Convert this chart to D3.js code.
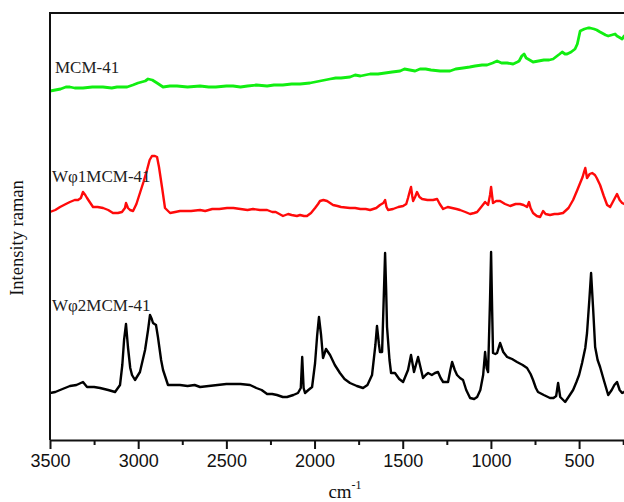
<!DOCTYPE html>
<html>
<head>
<meta charset="utf-8">
<script src="https://cdn.jsdelivr.net/npm/d3@7"></script>
<style>
  body { margin: 0; background: #fff; }
  svg { display: block; }
  .tick text { font-family: "Liberation Sans", Arial, sans-serif; font-size: 18px; fill: #111; }
</style>
</head>
<body>
<div id="chart"></div>
<script>
// spectra: [wavenumber cm-1, intensity (arbitrary units)]
var mcm41 = [[3500,349],[3470,350],[3440,351],[3410,353],[3387,353],[3360,352],[3340,352],[3313,352],[3260,353],
  [3200,353],[3150,352],[3120,353],[3063,353],[3030,355],[3001,357],[2960,359],[2944,361],[2920,360],[2893,357],
  [2859,353],[2820,354],[2780,354],[2720,353],[2649,354],[2600,353],[2560,353],[2500,354],[2462,354],[2420,353],
  [2380,354],[2330,355],[2269,354],[2230,355],[2180,355],[2130,356],[2082,356],[2026,357],[1969,359],[1912,361],
  [1880,362],[1850,362],[1799,363],[1770,365],[1740,364],[1685,366],[1640,366],[1600,367],[1560,368],[1515,369],
  [1490,371],[1460,370],[1430,369],[1402,371],[1370,371],[1340,370],[1288,369],[1232,369],[1200,371],[1158,372],
  [1120,373],[1090,374],[1050,375],[1022,375],[990,377],[965,379],[940,377],[908,377],[874,376],[850,378],
  [840,379],[825,384],[812,386],[800,382],[790,381],[761,378],[730,379],[700,380],[670,380],[647,381],[625,384],
  [610,386],[596,388],[580,386],[568,386],[545,388],[523,391],[510,396],[505,400],[494,409],[470,411],[450,412],
  [438,412],[415,411],[400,410],[381,408],[360,406],[350,405],[335,404],[315,405],[296,406],[285,404],[275,403],
  [256,401],[245,404],[230,402]];

var wphi1 = [[3500,228],[3470,230],[3443,233],[3410,236],[3387,238],[3360,240],[3341,240],[3325,242],[3313,248],
  [3300,245],[3290,242],[3275,238],[3256,233],[3230,233],[3199,232],[3170,230],[3143,227],[3115,227],[3092,228],
  [3075,232],[3069,237],[3058,232],[3046,230],[3029,229],[3010,236],[2990,247],[2970,258],[2950,270],[2935,280],
  [2922,284],[2905,284],[2893,283],[2882,273],[2865,253],[2848,232],[2819,227],[2790,228],[2763,229],[2730,229],
  [2700,229],[2649,230],[2620,229],[2580,231],[2540,231],[2496,232],[2460,232],[2420,231],[2380,230],[2349,231],
  [2310,230],[2269,230],[2240,228],[2220,228],[2179,224],[2150,226],[2130,225],[2100,224],[2082,225],[2060,224],
  [2043,224],[2020,227],[1997,232],[1980,236],[1969,239],[1950,240],[1929,239],[1895,235],[1870,234],[1850,233],
  [1799,232],[1770,232],[1740,231],[1710,231],[1685,230],[1650,232],[1629,235],[1610,237],[1600,240],[1592,233],
  [1583,230],[1555,231],[1525,233],[1498,234],[1480,236],[1470,242],[1458,250],[1453,253],[1446,244],[1441,239],
  [1430,243],[1419,248],[1405,243],[1390,241],[1360,240],[1328,240],[1305,241],[1290,236],[1271,231],[1245,233],
  [1220,232],[1195,231],[1175,230],[1145,228],[1118,226],[1095,227],[1078,228],[1055,233],[1033,238],[1016,235],
  [1005,245],[999,253],[993,244],[988,237],[970,239],[948,239],[920,236],[891,234],[860,236],[835,236],[815,235],
  [795,233],[784,238],[775,232],[761,227],[740,224],[721,223],[704,229],[690,226],[665,225],[640,226],[620,226],
  [591,227],[560,232],[534,240],[510,250],[494,257],[480,263],[472,268],[465,272],[455,262],[440,266],[426,267],
  [410,265],[400,262],[381,255],[360,244],[341,235],[324,233],[300,241],[285,246],[270,240],[256,237],[245,236],
  [230,235]];

var wphi2 = [[3500,47],[3470,48],[3443,50],[3415,52],[3387,54],[3350,55],[3313,58],[3290,53],[3250,53],[3216,52],
  [3170,50],[3131,48],[3103,55],[3090,75],[3080,100],[3069,116],[3058,93],[3045,72],[3035,65],[3018,60],[2990,68],
  [2961,90],[2944,110],[2933,125],[2923,121],[2916,117],[2899,115],[2888,103],[2870,80],[2859,70],[2831,55],
  [2800,55],[2763,55],[2720,54],[2680,55],[2649,53],[2600,54],[2550,55],[2500,56],[2462,56],[2420,56],[2366,55],
  [2330,52],[2300,50],[2269,46],[2240,46],[2213,45],[2180,43],[2156,43],[2120,45],[2094,47],[2078,52],[2070,83],
  [2062,52],[2054,47],[2035,50],[2014,53],[1997,77],[1985,105],[1975,123],[1963,105],[1952,82],[1935,91],[1912,85],
  [1885,75],[1856,67],[1830,61],[1799,57],[1760,54],[1725,52],[1700,55],[1674,65],[1655,95],[1646,114],[1635,96],
  [1629,88],[1617,88],[1608,140],[1600,187],[1594,150],[1589,113],[1575,80],[1566,67],[1544,67],[1520,61],
  [1498,58],[1470,70],[1453,85],[1436,68],[1413,83],[1385,62],[1370,65],[1356,67],[1335,65],[1317,67],[1300,68],
  [1285,62],[1271,58],[1243,58],[1230,70],[1220,78],[1205,70],[1192,65],[1175,62],[1158,60],[1140,50],[1118,42],
  [1095,41],[1078,43],[1060,50],[1044,65],[1033,88],[1024,72],[1016,68],[1005,140],[999,188],[993,130],[988,87],
  [975,86],[965,87],[948,97],[930,88],[908,83],[880,81],[852,78],[820,75],[795,72],[775,66],[761,60],[745,52],
  [733,48],[700,45],[665,42],[645,42],[630,44],[619,57],[607,43],[590,40],[579,38],[560,43],[534,50],[515,58],
  [500,65],[483,77],[465,92],[455,107],[442,140],[432,167],[420,130],[409,93],[395,80],[381,73],[360,60],[335,45],
  [315,50],[300,55],[285,58],[270,50],[256,47],[245,48],[230,50]];

var series = [
  {name: "MCM-41", values: mcm41, color: "#11ee11", width: 2.8, label: [55, 73]},
  {name: "W\u03c61MCM-41", values: wphi1, color: "#ff0a0a", width: 2.4, label: [52, 182]},
  {name: "W\u03c62MCM-41", values: wphi2, color: "#000000", width: 2.4, label: [52, 311]}
];

var majorTicks = [3500, 3000, 2500, 2000, 1500, 1000, 500];
var minorTicks = [3250, 2750, 2250, 1750, 1250, 750, 250];

var width = 624, height = 502;

var svg = d3.select("#chart")
    .append("svg")
        .attr("width", width)
        .attr("height", height);

// reversed wavenumber axis, right edge of the frame falls off the picture
var x = d3.scaleLinear()
    .domain([3500, 200])
    .range([50, 632]);

var y = d3.scaleLinear()
    .domain([0, 430])
    .range([440, 10]);

svg.append("clipPath").attr("id", "plotclip")
    .append("rect")
        .attr("x", 50).attr("y", 12)
        .attr("width", 600).attr("height", 428);

var line = d3.line()
    .x(function(d) { return x(d[0]); })
    .y(function(d) { return y(d[1]); });

series.forEach(function(s) {
    svg.append("path")
        .datum(s.values)
        .attr("clip-path", "url(#plotclip)")
        .attr("fill", "none")
        .attr("stroke", s.color)
        .attr("stroke-width", s.width)
        .attr("stroke-linejoin", "round")
        .attr("d", line);

    svg.append("text")
        .attr("x", s.label[0])
        .attr("y", s.label[1])
        .attr("font-family", "'Liberation Serif', 'Times New Roman', serif")
        .attr("font-size", 17)
        .attr("fill", "#222")
        .text(s.name);
});

// frame: left and top lines
svg.append("line")
    .attr("x1", 50).attr("x2", 50)
    .attr("y1", 12).attr("y2", 440)
    .attr("stroke", "#111").attr("stroke-width", 2);
svg.append("line")
    .attr("x1", 49).attr("x2", 640)
    .attr("y1", 13).attr("y2", 13)
    .attr("stroke", "#111").attr("stroke-width", 2);

// bottom axis with major labels and minor ticks
var xAxis = svg.append("g")
    .attr("transform", "translate(0,440)")
    .call(d3.axisBottom(x).tickValues(majorTicks).tickFormat(d3.format("d"))
        .tickSize(9).tickPadding(5).tickSizeOuter(0));
xAxis.select(".domain").attr("stroke", "#111").attr("stroke-width", 2);
xAxis.selectAll(".tick line").attr("stroke", "#111").attr("stroke-width", 2);

svg.append("g")
    .attr("transform", "translate(0,440)")
    .call(d3.axisBottom(x).tickValues(minorTicks).tickSize(5).tickFormat(""))
    .call(function(g) { g.select(".domain").remove(); })
    .selectAll(".tick line").attr("stroke", "#111").attr("stroke-width", 2);

// axis titles
var xt = svg.append("text")
    .attr("x", 345)
    .attr("y", 498)
    .attr("text-anchor", "middle")
    .attr("font-family", "'Liberation Serif', 'Times New Roman', serif")
    .attr("font-size", 19)
    .attr("fill", "#111");
xt.append("tspan").text("cm");
xt.append("tspan").attr("dy", -9).attr("font-size", 12).text("-1");

svg.append("text")
    .attr("transform", "translate(23,238) rotate(-90)")
    .attr("text-anchor", "middle")
    .attr("font-family", "'Liberation Serif', 'Times New Roman', serif")
    .attr("font-size", 18.5)
    .attr("fill", "#111")
    .text("Intensity raman");
</script>
</body>
</html>
